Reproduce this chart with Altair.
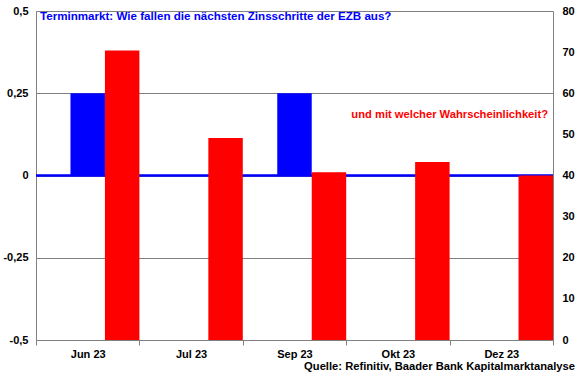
import altair as alt
import pandas as pd

months = ["Jun 23", "Jul 23", "Sep 23", "Okt 23", "Dez 23"]
zins = [0.25, 0.0, 0.25, 0.0, 0.0]
wahrsch = [70.4, 49.1, 40.8, 43.3, 40.0]
left_ticks = [-0.5, -0.25, 0, 0.25, 0.5]
right_ticks = [0, 10, 20, 30, 40, 50, 60, 70, 80]

FONT = "Liberation Sans"
GREY = "#808080"

df_b = pd.DataFrame({"Monat": months, "Wert": zins, "Serie": "blau"})
df_r = pd.DataFrame({"Monat": months, "Wert": wahrsch, "Serie": "rot"})

x_enc = alt.X(
    "Monat:N", sort=months,
    scale=alt.Scale(domain=months, paddingInner=0, paddingOuter=0),
    axis=alt.Axis(title=None, labelAngle=0, tickBand="extent", labelFont=FONT,
                  labelFontSize=11, labelFontWeight="bold", labelColor="black",
                  labelPadding=3, domainColor=GREY, tickColor=GREY, tickSize=5),
)
xoff = alt.XOffset("Serie:N", scale=alt.Scale(domain=["leer", "blau", "rot"],
                                               paddingInner=0, paddingOuter=0))

blue = alt.Chart(df_b).mark_bar(color="#0000FF").encode(
    x=x_enc, xOffset=xoff,
    y=alt.Y("Wert:Q", scale=alt.Scale(domain=[-0.5, 0.5], nice=False, zero=False),
            axis=alt.Axis(title=None, values=left_ticks, grid=True, gridColor=GREY,
                          ticks=False, labelFont=FONT, labelFontSize=11,
                          labelFontWeight="bold", labelColor="black", labelPadding=8,
                          domainColor=GREY,
                          labelExpr="replace(toString(datum.value), '.', ',')")),
)
line = alt.Chart(df_b).mark_rule(color="#0000FF", strokeWidth=1.5).encode(
    y=alt.datum(0)
)

red = alt.Chart(df_r).mark_bar(color="#FF0000").encode(
    x=x_enc, xOffset=xoff,
    y=alt.Y("Wert:Q", scale=alt.Scale(domain=[0, 80], nice=False),
            axis=alt.Axis(title=None, orient="right", values=right_ticks, grid=False,
                          ticks=False, labelFont=FONT, labelFontSize=11,
                          labelFontWeight="bold", labelColor="black", labelPadding=9,
                          domainColor=GREY)),
)

t1 = alt.Chart(pd.DataFrame({"t": ["Terminmarkt: Wie fallen die nächsten Zinsschritte der EZB aus?"]})).mark_text(
    align="left", baseline="top", font=FONT, fontSize=11.6, fontWeight="bold", color="#0000FF"
).encode(x=alt.value(4), y=alt.value(0), text="t:N")
t2 = alt.Chart(pd.DataFrame({"t": ["und mit welcher Wahrscheinlichkeit?"]})).mark_text(
    align="right", baseline="top", font=FONT, fontSize=11.2, fontWeight="bold", color="#FF0000"
).encode(x=alt.value(512), y=alt.value(98), text="t:N")
t3 = alt.Chart(pd.DataFrame({"t": ["Quelle: Refinitiv, Baader Bank Kapitalmarktanalyse"]})).mark_text(
    align="right", baseline="top", font=FONT, fontSize=11.2, fontWeight="bold", color="black"
).encode(x=alt.value(539), y=alt.value(350), text="t:N")

chart = alt.layer(
    alt.layer(blue, line),
    red,
    t1, t2, t3,
).resolve_scale(y="independent").properties(
    width=517, height=329,
    autosize=alt.AutoSizeParams(type="none"),
    padding={"left": 36, "top": 11, "right": 27, "bottom": 35},
).configure_view(stroke=GREY, strokeWidth=1).configure(background="white")

chart.save("out.html", embed_options={"renderer": "svg", "actions": False})
